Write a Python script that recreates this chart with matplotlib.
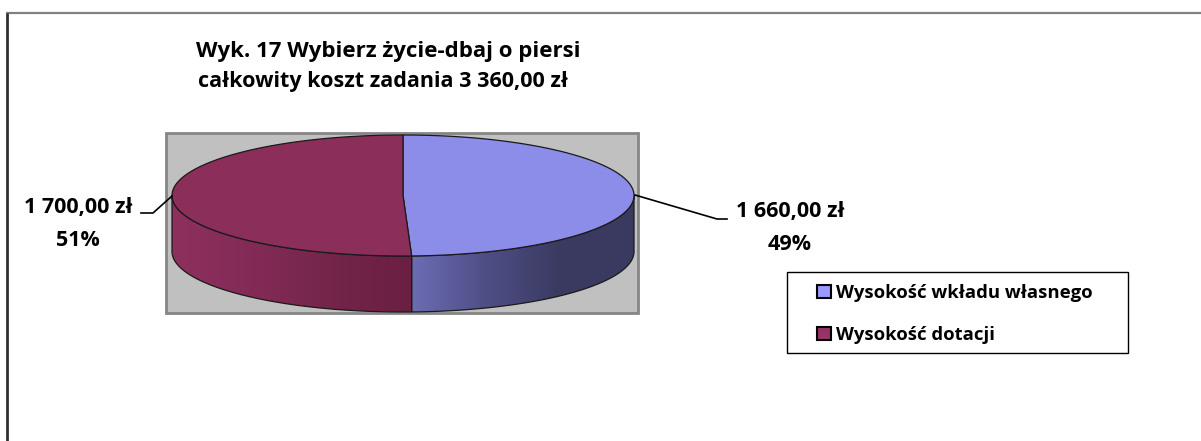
import numpy as np
import matplotlib
matplotlib.use("Agg")
import matplotlib.pyplot as plt
from matplotlib.patches import Polygon, Rectangle, Patch
from matplotlib.colors import LinearSegmentedColormap

# ---- data ----
categories = ["Wysokość wkładu własnego", "Wysokość dotacji"]
values = [1660.00, 1700.00]
value_labels = ["1 660,00 zł", "1 700,00 zł"]
title_lines = ["Wyk. 17 Wybierz życie-dbaj o piersi",
               "całkowity koszt zadania 3 360,00 zł"]

top_colors = ["#8c8ce9", "#8b2e5a"]
side_grad = [["#6c6cb4", "#4e4e86", "#3a3a60", "#3b3b62"],
             ["#8e305e", "#832b56", "#742549", "#6a1f43"]]

FONT = ["Open Sans", "DejaVu Sans"]
W, H = 1201, 441
fig = plt.figure(figsize=(W / 100, H / 100), dpi=100)
ax = fig.add_axes([0, 0, 1, 1])
ax.set_xlim(0, W)
ax.set_ylim(H, 0)
ax.axis("off")

# outer border (top & left)
ax.plot([6, W], [13, 13], color="#808080", lw=1.6, solid_capstyle="butt")
ax.plot([7, 7], [13, H], color="#303030", lw=2.0, solid_capstyle="butt")

# plot area
ax.add_patch(Rectangle((166, 133), 472, 180, facecolor="#c0c0c0",
                       edgecolor="#858585", lw=2.0, zorder=1))

# ---- 3D pie ----
cx, cy, a, b, depth = 403, 195.5, 231, 60.5, 56
total = sum(values)
fracs = np.array(values) / total
starts = 90 - 360 * np.concatenate([[0], np.cumsum(fracs)[:-1]])
ends = starts - 360 * fracs


def pt(t_deg, dy=0.0):
    t = np.radians(t_deg)
    return cx + a * np.cos(t), cy - b * np.sin(t) + dy


# sides (front, visible: angles between -180 and 0)
for i in range(len(values)):
    s, e = starts[i], ends[i]
    lo, hi = min(s, e), max(s, e)
    vlo, vhi = max(lo, -180), min(hi, 0)
    if vhi <= vlo:
        continue
    ts = np.linspace(vlo, vhi, 200)
    x1, y1 = pt(ts)
    x2, y2 = pt(ts[::-1], depth)
    poly = np.column_stack([np.concatenate([x1, x2]), np.concatenate([y1, y2])])
    patch = Polygon(poly, closed=True, facecolor="none", edgecolor="#1a1a1a",
                    lw=0.9, zorder=4)
    ax.add_patch(patch)
    cmap = LinearSegmentedColormap.from_list("g%d" % i, side_grad[i])
    grad = np.linspace(0, 1, 256).reshape(1, -1)
    xmin, xmax = poly[:, 0].min(), poly[:, 0].max()
    ymin, ymax = poly[:, 1].min(), poly[:, 1].max()
    im = ax.imshow(grad, cmap=cmap, extent=[xmin, xmax, ymax, ymin],
                   aspect="auto", zorder=3, interpolation="bilinear")
    im.set_clip_path(patch)

# tops
for i in range(len(values)):
    ts = np.linspace(starts[i], ends[i], 300)
    xs, ys = pt(ts)
    poly = np.column_stack([np.concatenate([[cx], xs]), np.concatenate([[cy], ys])])
    ax.add_patch(Polygon(poly, closed=True, facecolor=top_colors[i],
                         edgecolor="#1a1a1a", lw=0.9, zorder=5))

ax.set_xlim(0, W)
ax.set_ylim(H, 0)

# ---- labels with leader lines ----
pcts = ["%d%%" % round(f * 100) for f in fracs]
lab_pos = [(790, 211, 245), (78, 207, 240)]
leaders = [[(635, 195), (717, 219), (727, 219)],
           [(172, 196), (153, 213), (141, 213)]]
for i in range(len(values)):
    lx, ly1, ly2 = lab_pos[i]
    ax.text(lx, ly1, value_labels[i], ha="center", va="center", fontsize=15.5,
            fontweight="bold", family=FONT, zorder=6)
    ax.text(lx, ly2, pcts[i], ha="center", va="center", fontsize=15.5,
            fontweight="bold", family=FONT, zorder=6)
    xs, ys = zip(*leaders[i])
    ax.plot(xs, ys, color="black", lw=1.2, zorder=6)

# ---- title ----
ax.text(388, 51, title_lines[0], ha="center", va="center", fontsize=16,
        fontweight="bold", family=FONT)
ax.text(383, 81, title_lines[1], ha="center", va="center", fontsize=15.5,
        fontweight="bold", family=FONT)

# ---- legend ----
ax.add_patch(Rectangle((787, 272), 341, 81, facecolor="white",
                       edgecolor="black", lw=1.0, zorder=6))
handles = [Patch(facecolor=c, edgecolor="black", lw=1.5) for c in
           ["#9999ff", "#993366"]]
leg = ax.legend(handles, categories, loc="upper left",
                bbox_to_anchor=(817 / W, 1 - 284 / H),
                bbox_transform=fig.transFigure, frameon=False,
                prop={"family": FONT, "weight": "bold", "size": 13.3},
                handlelength=0.75, handleheight=0.75, handletextpad=0.3,
                labelspacing=1.3, borderpad=0, borderaxespad=0)
leg.set_zorder(7)

fig.savefig("out.png", dpi=100)
